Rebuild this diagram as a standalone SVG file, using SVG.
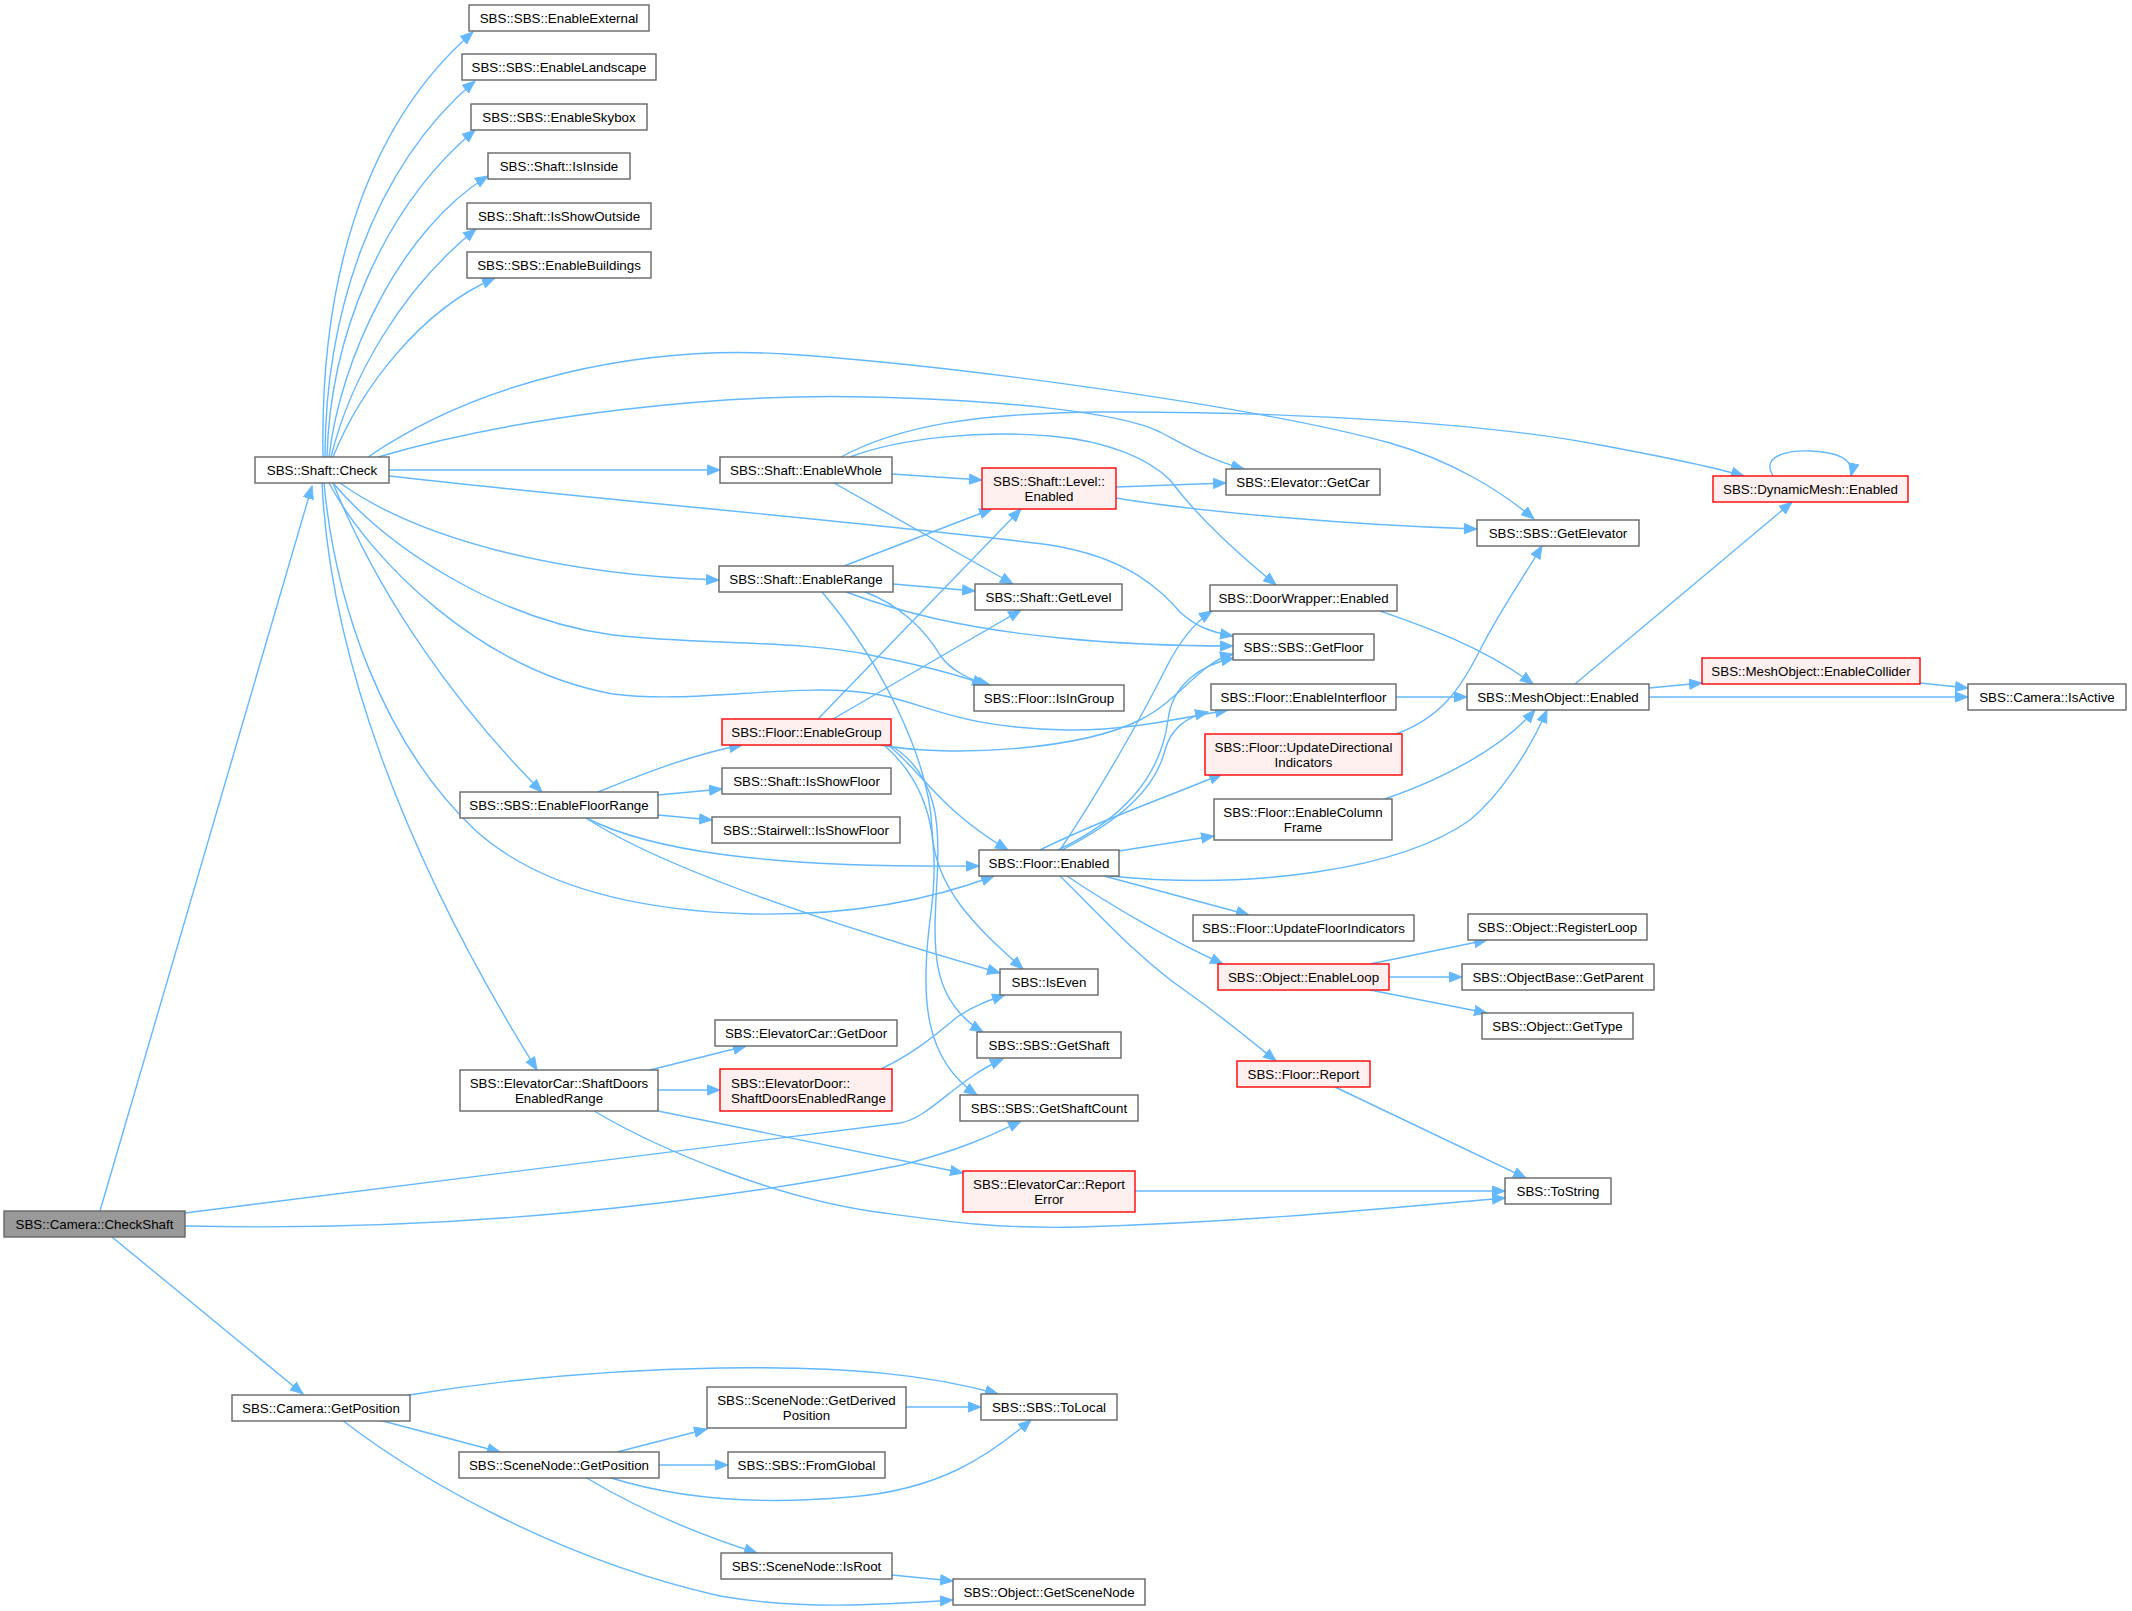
<svg xmlns="http://www.w3.org/2000/svg" width="2132" height="1611" viewBox="0 0 2132 1611">
<defs>
<style>
.e{fill:none;stroke:#63b8ff;stroke-width:1.4;marker-end:url(#ah)}
.n rect{fill:#ffffff;stroke:#666666;stroke-width:1.4}
.r rect{fill:#fff0f0;stroke:#ff0000;stroke-width:1.4}
.g rect{fill:#999999;stroke:#666666;stroke-width:1.4}
text{font-family:"Liberation Sans",Arial,Helvetica,sans-serif;font-size:13.33px;fill:#000000;text-anchor:middle}
</style>
<marker id="ah" markerUnits="userSpaceOnUse" markerWidth="14" markerHeight="12" viewBox="0 0 14 12" refX="13" refY="6" orient="auto">
<path d="M0.5,1 L13,6 L0.5,11 z" fill="#63b8ff" stroke="#63b8ff" stroke-width="1"/>
</marker>
</defs>
<rect x="0" y="0" width="2132" height="1611" fill="#ffffff"/>
<g id="edges">
<path class="e" d="M100,1211 L312,486"/>
<path class="e" d="M185,1213 L900,1123 C930,1118 955,1080 1003,1059"/>
<path class="e" d="M185,1226 C450,1232 700,1205 902,1165 C960,1150 990,1136 1021,1121"/>
<path class="e" d="M112,1237 L303,1394"/>
<path class="e" d="M323,457 C320,290 360,130 473,32"/>
<path class="e" d="M325,457 C325,320 370,170 475,81"/>
<path class="e" d="M327,457 C330,340 380,210 475,130"/>
<path class="e" d="M329,457 C340,360 400,230 488,176"/>
<path class="e" d="M331,457 C350,380 400,290 476,229"/>
<path class="e" d="M333,457 C360,390 420,310 495,278"/>
<path class="e" d="M368,457 C480,380 640,345 785,354 C950,365 1250,405 1390,443 C1450,460 1500,490 1534,519"/>
<path class="e" d="M378,457 C520,415 720,393 869,397 C1000,400 1120,412 1160,432 C1190,448 1210,460 1244,469"/>
<path class="e" d="M389,470 L720,470"/>
<path class="e" d="M389,476 C600,500 900,525 1050,545 C1130,558 1160,590 1180,612 C1195,626 1210,632 1233,636"/>
<path class="e" d="M340,483 C420,540 560,575 719,580"/>
<path class="e" d="M333,483 C390,550 500,620 613,635 C700,645 800,640 870,655 C920,665 960,675 985,685"/>
<path class="e" d="M329,483 C370,560 480,670 613,694 C700,705 800,680 880,695 C930,705 960,728 1067,730 C1130,731 1190,716 1228,710"/>
<path class="e" d="M333,483 C380,600 460,710 542,792"/>
<path class="e" d="M324,483 C335,600 380,740 475,830 C530,880 620,910 751,914 C850,916 930,900 994,876"/>
<path class="e" d="M322,483 C330,650 400,850 537,1070"/>
<path class="e" d="M892,474 L982,480"/>
<path class="e" d="M834,483 L1013,584"/>
<path class="e" d="M850,457 C900,438 980,430 1050,436 C1110,441 1150,460 1170,480 C1200,520 1240,555 1276,585"/>
<path class="e" d="M841,457 C900,425 980,413 1100,412 C1300,411 1500,425 1600,445 C1670,458 1710,466 1744,476"/>
<path class="e" d="M844,566 L992,509"/>
<path class="e" d="M893,584 L975,591"/>
<path class="e" d="M846,592 C900,612 960,628 1060,638 C1130,645 1190,646 1233,646"/>
<path class="e" d="M865,592 C900,605 925,630 940,655 C950,670 970,680 990,685"/>
<path class="e" d="M822,592 C880,660 930,760 932,830 C934,890 980,930 1023,969"/>
<path class="e" d="M818,719 L1021,509"/>
<path class="e" d="M833,719 L1021,610"/>
<path class="e" d="M880,745 C950,758 1080,750 1140,720 C1180,700 1200,662 1233,654"/>
<path class="e" d="M888,745 C920,770 940,810 1008,850"/>
<path class="e" d="M890,745 C940,775 940,830 937,880 C933,950 930,1000 983,1032"/>
<path class="e" d="M885,746 C935,790 940,850 930,920 C920,1000 925,1060 977,1095"/>
<path class="e" d="M598,792 C640,775 690,755 742,745"/>
<path class="e" d="M658,795 L722,789"/>
<path class="e" d="M658,815 L712,820"/>
<path class="e" d="M586,818 C650,850 760,868 979,866"/>
<path class="e" d="M586,818 C650,860 780,910 1000,973"/>
<path class="e" d="M650,1070 L746,1046"/>
<path class="e" d="M658,1090 L720,1090"/>
<path class="e" d="M658,1111 L963,1173"/>
<path class="e" d="M594,1111 C660,1150 780,1200 884,1213 C950,1222 1000,1229 1080,1227 C1250,1222 1400,1207 1505,1198"/>
<path class="e" d="M881,1069 C910,1055 930,1040 957,1017 C975,1005 990,1000 1005,995"/>
<path class="e" d="M1135,1191 L1505,1191"/>
<path class="e" d="M1335,1087 L1526,1178"/>
<path class="e" d="M1060,850 C1100,790 1140,720 1165,670 C1180,640 1195,622 1212,611"/>
<path class="e" d="M1058,850 C1120,820 1160,780 1168,720 C1172,685 1200,665 1234,658"/>
<path class="e" d="M1062,850 C1120,820 1155,790 1165,750 C1172,725 1190,716 1208,712"/>
<path class="e" d="M1040,850 C1100,820 1160,800 1222,774"/>
<path class="e" d="M1119,851 L1214,836"/>
<path class="e" d="M1110,876 C1250,890 1400,870 1470,820 C1500,795 1530,750 1547,710"/>
<path class="e" d="M1104,876 L1249,915"/>
<path class="e" d="M1067,876 C1110,905 1170,940 1223,964"/>
<path class="e" d="M1060,876 C1100,915 1140,960 1187,992 C1220,1015 1250,1040 1276,1061"/>
<path class="e" d="M1116,487 L1226,483"/>
<path class="e" d="M1116,498 C1200,512 1350,525 1477,529"/>
<path class="e" d="M1380,611 C1420,625 1480,645 1533,684"/>
<path class="e" d="M1396,697 L1467,697"/>
<path class="e" d="M1396,734 C1440,718 1460,690 1480,650 C1500,610 1525,575 1542,546"/>
<path class="e" d="M1385,799 C1440,780 1500,750 1535,710"/>
<path class="e" d="M1575,684 L1792,502"/>
<path class="e" d="M1649,688 L1702,683"/>
<path class="e" d="M1649,697 L1968,697"/>
<path class="e" d="M1920,683 L1968,688"/>
<path class="e" d="M1773,476 C1760,455 1790,450 1811,451 C1835,452 1855,458 1851,476"/>
<path class="e" d="M1370,964 L1487,940"/>
<path class="e" d="M1389,977 L1462,977"/>
<path class="e" d="M1370,990 L1487,1013"/>
<path class="e" d="M409,1395 C500,1380 600,1370 720,1368 C850,1366 930,1375 998,1394"/>
<path class="e" d="M379,1420 L500,1452"/>
<path class="e" d="M342,1420 C420,1480 560,1560 720,1596 C800,1610 880,1605 953,1600"/>
<path class="e" d="M617,1452 L707,1429"/>
<path class="e" d="M659,1465 L728,1465"/>
<path class="e" d="M608,1477 C680,1500 760,1505 850,1497 C940,1490 990,1455 1031,1420"/>
<path class="e" d="M585,1477 C640,1510 700,1535 757,1553"/>
<path class="e" d="M906,1407 L981,1407"/>
<path class="e" d="M892,1575 L953,1581"/>
</g>
<g id="n1" class="g"><rect x="4" y="1211" width="181" height="26"/><text x="94.5" y="1228.5">SBS::Camera::CheckShaft</text></g>
<g id="n2" class="n"><rect x="255" y="457" width="134" height="26"/><text x="322" y="474.5">SBS::Shaft::Check</text></g>
<g id="n3" class="n"><rect x="469" y="5" width="180" height="26"/><text x="559" y="22.5">SBS::SBS::EnableExternal</text></g>
<g id="n4" class="n"><rect x="462" y="54" width="194" height="26"/><text x="559" y="71.5">SBS::SBS::EnableLandscape</text></g>
<g id="n5" class="n"><rect x="471" y="104" width="176" height="26"/><text x="559" y="121.5">SBS::SBS::EnableSkybox</text></g>
<g id="n6" class="n"><rect x="488" y="153" width="142" height="26"/><text x="559" y="170.5">SBS::Shaft::IsInside</text></g>
<g id="n7" class="n"><rect x="467" y="203" width="184" height="26"/><text x="559" y="220.5">SBS::Shaft::IsShowOutside</text></g>
<g id="n8" class="n"><rect x="467" y="252" width="184" height="26"/><text x="559" y="269.5">SBS::SBS::EnableBuildings</text></g>
<g id="n9" class="n"><rect x="720" y="457" width="172" height="26"/><text x="806" y="474.5">SBS::Shaft::EnableWhole</text></g>
<g id="n10" class="n"><rect x="719" y="566" width="174" height="26"/><text x="806" y="583.5">SBS::Shaft::EnableRange</text></g>
<g id="n11" class="n"><rect x="460" y="792" width="198" height="26"/><text x="559" y="809.5">SBS::SBS::EnableFloorRange</text></g>
<g id="n12" class="n"><rect x="460" y="1070" width="198" height="41"/><text x="559" y="1088">SBS::ElevatorCar::ShaftDoors</text><text x="559" y="1103">EnabledRange</text></g>
<g id="n13" class="n"><rect x="232" y="1395" width="178" height="26"/><text x="321" y="1412.5">SBS::Camera::GetPosition</text></g>
<g id="n14" class="r"><rect x="982" y="468" width="134" height="41"/><text x="1049" y="486">SBS::Shaft::Level::</text><text x="1049" y="501">Enabled</text></g>
<g id="n15" class="n"><rect x="975" y="584" width="147" height="26"/><text x="1048.5" y="601.5">SBS::Shaft::GetLevel</text></g>
<g id="n16" class="n"><rect x="974" y="685" width="150" height="26"/><text x="1049" y="702.5">SBS::Floor::IsInGroup</text></g>
<g id="n17" class="r"><rect x="722" y="719" width="169" height="26"/><text x="806.5" y="736.5">SBS::Floor::EnableGroup</text></g>
<g id="n18" class="n"><rect x="722" y="768" width="169" height="26"/><text x="806.5" y="785.5">SBS::Shaft::IsShowFloor</text></g>
<g id="n19" class="n"><rect x="712" y="817" width="188" height="26"/><text x="806" y="834.5">SBS::Stairwell::IsShowFloor</text></g>
<g id="n20" class="n"><rect x="979" y="850" width="140" height="26"/><text x="1049" y="867.5">SBS::Floor::Enabled</text></g>
<g id="n21" class="n"><rect x="1000" y="969" width="98" height="26"/><text x="1049" y="986.5">SBS::IsEven</text></g>
<g id="n22" class="n"><rect x="715" y="1020" width="182" height="26"/><text x="806" y="1037.5">SBS::ElevatorCar::GetDoor</text></g>
<g id="n23" class="n"><rect x="977" y="1032" width="144" height="26"/><text x="1049" y="1049.5">SBS::SBS::GetShaft</text></g>
<g id="n24" class="r"><rect x="720" y="1069" width="172" height="42"/><text x="731" y="1088" style="text-anchor:start">SBS::ElevatorDoor::</text><text x="731" y="1103" style="text-anchor:start">ShaftDoorsEnabledRange</text></g>
<g id="n25" class="n"><rect x="960" y="1095" width="178" height="26"/><text x="1049" y="1112.5">SBS::SBS::GetShaftCount</text></g>
<g id="n26" class="r"><rect x="963" y="1171" width="172" height="41"/><text x="1049" y="1189">SBS::ElevatorCar::Report</text><text x="1049" y="1204">Error</text></g>
<g id="n27" class="n"><rect x="707" y="1387" width="199" height="41"/><text x="806.5" y="1405">SBS::SceneNode::GetDerived</text><text x="806.5" y="1420">Position</text></g>
<g id="n28" class="n"><rect x="981" y="1394" width="136" height="26"/><text x="1049" y="1411.5">SBS::SBS::ToLocal</text></g>
<g id="n29" class="n"><rect x="459" y="1452" width="200" height="26"/><text x="559" y="1469.5">SBS::SceneNode::GetPosition</text></g>
<g id="n30" class="n"><rect x="728" y="1452" width="157" height="26"/><text x="806.5" y="1469.5">SBS::SBS::FromGlobal</text></g>
<g id="n31" class="n"><rect x="721" y="1553" width="171" height="26"/><text x="806.5" y="1570.5">SBS::SceneNode::IsRoot</text></g>
<g id="n32" class="n"><rect x="953" y="1579" width="192" height="26"/><text x="1049" y="1596.5">SBS::Object::GetSceneNode</text></g>
<g id="n33" class="n"><rect x="1226" y="469" width="154" height="26"/><text x="1303" y="486.5">SBS::Elevator::GetCar</text></g>
<g id="n34" class="n"><rect x="1210" y="585" width="187" height="26"/><text x="1303.5" y="602.5">SBS::DoorWrapper::Enabled</text></g>
<g id="n35" class="n"><rect x="1233" y="634" width="141" height="26"/><text x="1303.5" y="651.5">SBS::SBS::GetFloor</text></g>
<g id="n36" class="n"><rect x="1211" y="684" width="185" height="26"/><text x="1303.5" y="701.5">SBS::Floor::EnableInterfloor</text></g>
<g id="n37" class="r"><rect x="1205" y="734" width="197" height="41"/><text x="1303.5" y="752">SBS::Floor::UpdateDirectional</text><text x="1303.5" y="767">Indicators</text></g>
<g id="n38" class="n"><rect x="1214" y="799" width="178" height="41"/><text x="1303" y="817">SBS::Floor::EnableColumn</text><text x="1303" y="832">Frame</text></g>
<g id="n39" class="n"><rect x="1193" y="915" width="221" height="26"/><text x="1303.5" y="932.5">SBS::Floor::UpdateFloorIndicators</text></g>
<g id="n40" class="r"><rect x="1218" y="964" width="171" height="26"/><text x="1303.5" y="981.5">SBS::Object::EnableLoop</text></g>
<g id="n41" class="r"><rect x="1237" y="1061" width="133" height="26"/><text x="1303.5" y="1078.5">SBS::Floor::Report</text></g>
<g id="n42" class="n"><rect x="1505" y="1178" width="106" height="26"/><text x="1558" y="1195.5">SBS::ToString</text></g>
<g id="n43" class="r"><rect x="1713" y="476" width="195" height="26"/><text x="1810.5" y="493.5">SBS::DynamicMesh::Enabled</text></g>
<g id="n44" class="n"><rect x="1477" y="520" width="162" height="26"/><text x="1558" y="537.5">SBS::SBS::GetElevator</text></g>
<g id="n45" class="r"><rect x="1702" y="658" width="218" height="26"/><text x="1811" y="675.5">SBS::MeshObject::EnableCollider</text></g>
<g id="n46" class="n"><rect x="1467" y="684" width="182" height="26"/><text x="1558" y="701.5">SBS::MeshObject::Enabled</text></g>
<g id="n47" class="n"><rect x="1968" y="684" width="158" height="26"/><text x="2047" y="701.5">SBS::Camera::IsActive</text></g>
<g id="n48" class="n"><rect x="1468" y="914" width="179" height="26"/><text x="1557.5" y="931.5">SBS::Object::RegisterLoop</text></g>
<g id="n49" class="n"><rect x="1462" y="964" width="192" height="26"/><text x="1558" y="981.5">SBS::ObjectBase::GetParent</text></g>
<g id="n50" class="n"><rect x="1482" y="1013" width="151" height="26"/><text x="1557.5" y="1030.5">SBS::Object::GetType</text></g>
</svg>
